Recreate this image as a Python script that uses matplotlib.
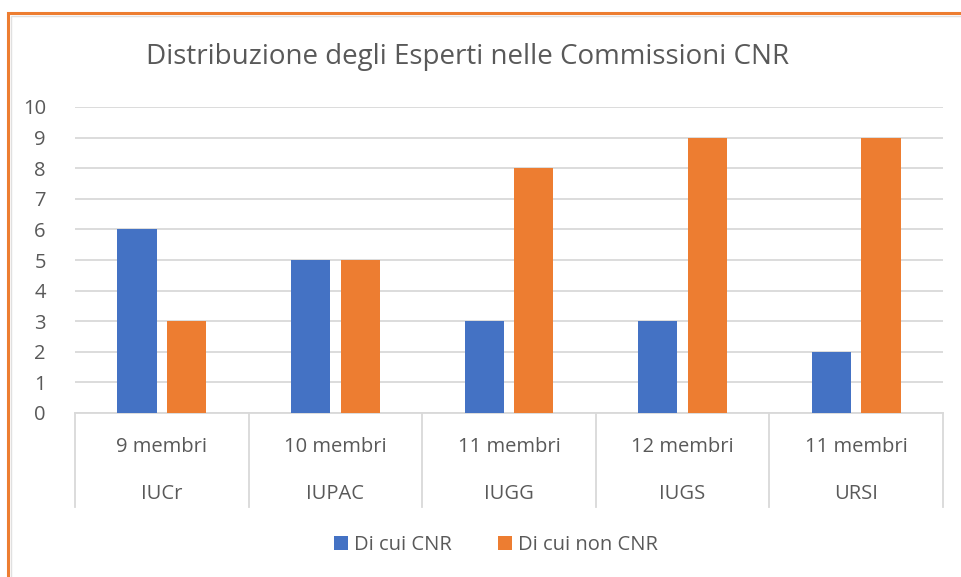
import matplotlib.pyplot as plt
import numpy as np
from matplotlib.patches import Rectangle
from matplotlib.lines import Line2D
import matplotlib.transforms as mtransforms

plt.rcParams['font.family'] = ['Open Sans', 'DejaVu Sans']

# data
enti = ["IUCr", "IUPAC", "IUGG", "IUGS", "URSI"]
membri = ["9 membri", "10 membri", "11 membri", "12 membri", "11 membri"]
cnr = [6, 5, 3, 3, 2]
non_cnr = [3, 5, 8, 9, 9]
series_names = ["Di cui CNR", "Di cui non CNR"]

blue = "#4472C4"
orange = "#ED7D31"
text_col = "#595959"
grid_col = "#D9D9D9"

W, H = 962, 577
fig = plt.figure(figsize=(W / 100, H / 100), dpi=100)

# frame (orange selection border + grey chart border)
fig.patches.append(Rectangle((8 / W, -0.01), 1.1, 1 - 13 / H + 0.01, transform=fig.transFigure,
                             fill=False, edgecolor=orange, linewidth=2.2))
fig.patches.append(Rectangle((11 / W, -0.01), 1.1, 1 - 16 / H + 0.01, transform=fig.transFigure,
                             fill=False, edgecolor="#E0E0E0", linewidth=1))

ax = fig.add_axes([75 / W, 1 - 413 / H, (943 - 75) / W, (413 - 107) / H])

x = np.arange(len(enti))
bw = 0.225
off = 0.143
ax.bar(x - off, cnr, bw, color=blue, label=series_names[0], zorder=3)
ax.bar(x + off, non_cnr, bw, color=orange, label=series_names[1], zorder=3)

ax.set_xlim(-0.5, len(enti) - 0.5)
ax.set_ylim(0, 10)
ax.set_yticks(range(0, 11))
ax.yaxis.grid(True, color=grid_col, linewidth=1.3, zorder=0)
ax.tick_params(axis='y', length=0, labelsize=14.5, labelcolor=text_col, pad=21)
ax.set_xticks([])
for s in ["top", "right", "left"]:
    ax.spines[s].set_visible(False)
ax.spines["bottom"].set_color(grid_col)
ax.spines["bottom"].set_linewidth(1.3)

# two-level category axis
trans = mtransforms.blended_transform_factory(ax.transData, ax.transAxes)
bottom = -(507 - 413) / (413 - 107)
for b in np.arange(-0.5, len(enti), 1.0):
    ax.add_line(Line2D([b, b], [0, bottom], transform=trans, color=grid_col,
                       linewidth=1.3, clip_on=False))
y1 = -(447 - 413) / (413 - 107)
y2 = -(494 - 413) / (413 - 107)
for i in range(len(enti)):
    ax.text(x[i], y1, membri[i], transform=trans, ha='center', va='center',
            fontsize=14.5, color=text_col)
    ax.text(x[i], y2, enti[i], transform=trans, ha='center', va='center',
            fontsize=14.5, color=text_col)

fig.text(468 / W, 1 - 57 / H, "Distribuzione degli Esperti nelle Commissioni CNR",
         ha='center', va='center', fontsize=20, color=text_col)

fig.legend(loc='center', bbox_to_anchor=(496 / W, 1 - 545 / H), ncol=2, frameon=False,
           fontsize=14.5, labelcolor=text_col, handlelength=0.7, handleheight=0.7,
           handletextpad=0.3, columnspacing=2.3)

fig.savefig("out.png", dpi=100)
